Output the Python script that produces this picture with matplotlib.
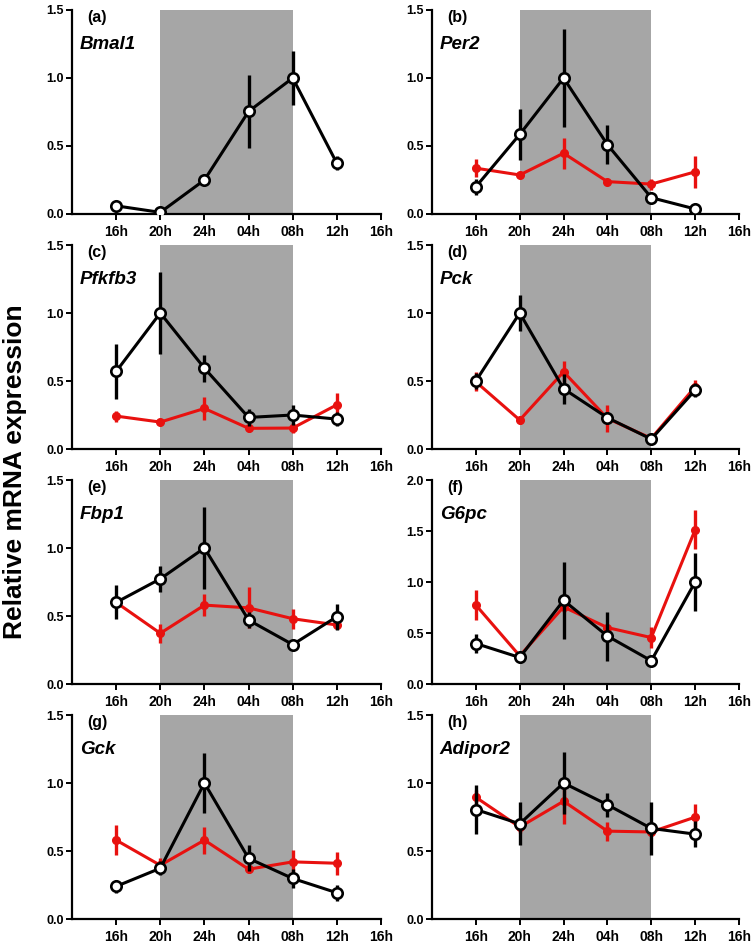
import matplotlib
matplotlib.use("Agg")
import matplotlib.pyplot as plt

plt.rcParams["font.family"] = ["Liberation Sans", "DejaVu Sans"]
plt.rcParams["font.weight"] = "bold"

times = ["16h", "20h", "24h", "04h", "08h", "12h", "16h"]
panel_labels = ["(a)", "(b)", "(c)", "(d)", "(e)", "(f)", "(g)", "(h)"]
genes = ["Bmal1", "Per2", "Pfkfb3", "Pck", "Fbp1", "G6pc", "Gck", "Adipor2"]
y_tops = [1.5, 1.5, 1.5, 1.5, 1.5, 2.0, 1.5, 1.5]

# black series (open circles) mean / sem
black_mean = [
    [0.06, 0.012, 0.25, 0.754, 1.0, 0.373],
    [0.20, 0.585, 1.0, 0.51, 0.12, 0.037],
    [0.57, 1.0, 0.594, 0.232, 0.25, 0.22],
    [0.50, 1.0, 0.443, 0.23, 0.073, 0.433],
    [0.60, 0.773, 1.0, 0.47, 0.29, 0.495],
    [0.397, 0.26, 0.82, 0.47, 0.228, 1.0],
    [0.24, 0.373, 1.0, 0.446, 0.298, 0.193],
    [0.805, 0.70, 1.0, 0.84, 0.666, 0.624],
]
black_err = [
    [0.02, 0.01, 0.02, 0.27, 0.2, 0.05],
    [0.06, 0.185, 0.36, 0.145, 0.02, 0.01],
    [0.2, 0.3, 0.1, 0.06, 0.07, 0.05],
    [0.06, 0.135, 0.11, 0.04, 0.01, 0.05],
    [0.125, 0.095, 0.305, 0.06, 0.02, 0.095],
    [0.09, 0.05, 0.38, 0.24, 0.02, 0.285],
    [0.05, 0.05, 0.22, 0.095, 0.07, 0.06],
    [0.183, 0.157, 0.23, 0.09, 0.195, 0.098],
]

# red series (filled circles); panel (a) has none
red_mean = [
    None,
    [0.337, 0.287, 0.447, 0.238, 0.22, 0.31],
    [0.242, 0.198, 0.298, 0.152, 0.154, 0.325],
    [0.494, 0.213, 0.567, 0.225, 0.078, 0.457],
    [0.60, 0.373, 0.58, 0.56, 0.48, 0.434],
    [0.774, 0.276, 0.755, 0.553, 0.455, 1.512],
    [0.58, 0.395, 0.58, 0.366, 0.42, 0.41],
    [0.895, 0.676, 0.866, 0.646, 0.64, 0.749],
]
red_err = [
    None,
    [0.065, 0.02, 0.115, 0.02, 0.04, 0.12],
    [0.04, 0.02, 0.085, 0.03, 0.04, 0.09],
    [0.07, 0.03, 0.08, 0.1, 0.01, 0.05],
    [0.03, 0.07, 0.08, 0.15, 0.075, 0.03],
    [0.145, 0.03, 0.05, 0.03, 0.1, 0.19],
    [0.11, 0.05, 0.1, 0.03, 0.085, 0.085],
    [0.05, 0.04, 0.17, 0.07, 0.03, 0.1],
]

W, H = 756, 947
col_x = [(72, 381), (432, 739)]
row_y = [(10, 214), (245, 449), (480, 684), (715, 919)]

fig = plt.figure(figsize=(W / 100, H / 100), dpi=100)

for i in range(8):
    r, c = divmod(i, 2)
    x0, x1 = col_x[c]
    yt, yb = row_y[r]
    ax = fig.add_axes([x0 / W, 1 - yb / H, (x1 - x0) / W, (yb - yt) / H])
    xs = list(range(6))

    ax.axvspan(1, 4, color="#a6a6a6", lw=0, zorder=0)

    if red_mean[i] is not None:
        ax.errorbar(xs, red_mean[i], yerr=red_err[i], color="#e8110f",
                    lw=2.2, elinewidth=2.4, capsize=0, marker="o",
                    ms=5.5, mfc="#e8110f", mec="#e8110f", zorder=3)
    ax.errorbar(xs, black_mean[i], yerr=black_err[i], color="black",
                lw=2.2, elinewidth=2.4, capsize=0, marker="o",
                ms=7.5, mfc="white", mec="black", mew=1.9, zorder=4)

    ax.set_xlim(-1, 6)
    ax.set_ylim(0, y_tops[i])
    ax.set_xticks(range(7))
    ax.set_xticklabels(times, fontsize=10, fontweight="bold")
    ax.set_yticks([0, 0.5, 1.0, 1.5, 2.0] if y_tops[i] == 2.0 else [0, 0.5, 1.0, 1.5])
    ax.set_yticklabels([f"{v:.1f}" for v in ax.get_yticks()], fontsize=9, fontweight="bold")
    for s in ["top", "right"]:
        ax.spines[s].set_visible(False)
    for s in ["left", "bottom"]:
        ax.spines[s].set_linewidth(1.6)
    ax.tick_params(axis="both", width=1.4, length=4, direction="out", pad=2)
    ax.tick_params(axis="x", pad=4)

    ax.text(0.05, 0.965, panel_labels[i], transform=ax.transAxes,
            fontsize=11.5, fontweight="bold", va="center", ha="left")
    ax.text(0.025, 0.83, genes[i], transform=ax.transAxes,
            fontsize=13.5, fontweight="bold", style="italic", va="center", ha="left")

fig.text(0.02, 1 - 472 / H, "Relative mRNA expression", rotation=90,
         fontsize=19, fontweight="bold", va="center", ha="center")

fig.savefig("out.png", dpi=100)
